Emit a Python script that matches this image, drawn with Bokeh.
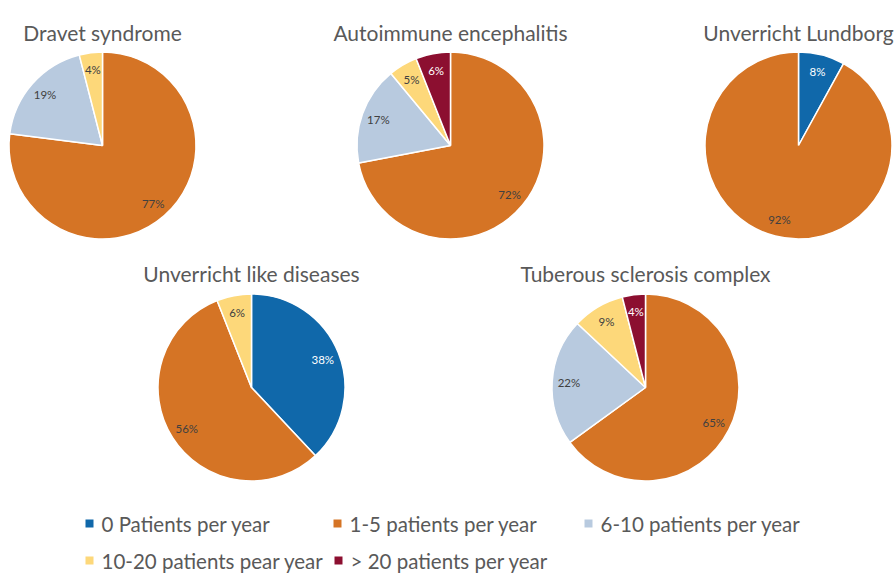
import math
from bokeh.plotting import figure
from bokeh.models import Range1d
from bokeh.core.properties import value
from bokeh.embed import file_html
from bokeh.resources import INLINE

# ---- data ----
diseases = ["Dravet syndrome", "Autoimmune encephalitis", "Unverricht Lundborg",
            "Unverricht like diseases", "Tuberous sclerosis complex"]
categories = ["0 Patients per year", "1-5 patients per year", "6-10 patients per year",
              "10-20 patients pear year", "> 20 patients per year"]
zero_per_year = [0, 0, 8, 38, 0]
one_to_five = [77, 72, 92, 56, 65]
six_to_ten = [19, 17, 0, 0, 22]
ten_to_twenty = [4, 5, 0, 6, 9]
over_twenty = [0, 6, 0, 0, 4]

# ---- styles / layout (layout in a 896x574 design space) ----
colors = ["#1068aa", "#d57425", "#b8cadf", "#fdd87a", "#8c0f30"]
label_colors = ["white", "#404040", "#404040", "#404040", "white"]
FONT = "Lato"
W, H = 896, 574
DW, DH = 896, 574
centers = [(102, 145), (450, 145), (798, 145), (251, 387), (645, 387)]
R = 93.5
title_y = [32, 32, 32, 273, 273]
legend_pos = [(89, 523), (337, 523), (588, 523), (89, 560), (338, 560)]

def Y(y):  # design y (from top) -> data y
    return DH - y

p = figure(width=W, height=H, output_backend="svg", toolbar_location=None,
           x_range=Range1d(0, DW), y_range=Range1d(0, DH),
           min_border=0, min_border_left=0, min_border_right=0,
           min_border_top=0, min_border_bottom=0)
p.axis.visible = False
p.grid.visible = False
p.outline_line_color = None
p.background_fill_color = "white"
p.border_fill_color = "white"

series = [zero_per_year, one_to_five, six_to_ten, ten_to_twenty, over_twenty]

for d, name in enumerate(diseases):
    cx, cy = centers[d]
    vals = [s[d] for s in series]
    total = float(sum(vals))
    cum = 0.0
    wx, wy, sa, ea, fc = [], [], [], [], []
    lx, ly, lt, lc = [], [], [], []
    for i, v in enumerate(vals):
        if v <= 0:
            continue
        f0 = cum / total
        f1 = (cum + v) / total
        cum += v
        wx.append(cx); wy.append(Y(cy))
        sa.append(math.pi / 2 - 2 * math.pi * f1)
        ea.append(math.pi / 2 - 2 * math.pi * f0)
        fc.append(colors[i])
        mid = (f0 + f1) / 2
        ang = math.pi / 2 - 2 * math.pi * mid
        rl = 0.82 * R
        lx.append(cx + rl * math.cos(ang)); ly.append(Y(cy) + rl * math.sin(ang))
        lt.append(f"{v}%"); lc.append(label_colors[i])
    p.wedge(x=wx, y=wy, radius=R, start_angle=sa, end_angle=ea,
            fill_color=fc, line_color="white", line_width=1.5)
    p.text(x=lx, y=ly, text=lt, text_color=lc, text_font=value(FONT),
           text_font_size="11.5px", text_align="center", text_baseline="middle")
    p.text(x=[cx], y=[Y(title_y[d])], text=[name], text_color="#595959",
           text_font=value(FONT), text_font_size="21px", text_align="center",
           text_baseline="alphabetic")

# legend
lgx = [pos[0] for pos in legend_pos]
lgy = [Y(pos[1]) for pos in legend_pos]
p.scatter(x=lgx, y=lgy, marker="square", size=8, fill_color=colors, line_color=None)
p.text(x=[x + 12 for x in lgx], y=lgy, text=categories, text_color="#595959",
       text_font=value(FONT), text_font_size="20.5px", text_align="left",
       text_baseline="middle")

open("out.html", "w").write(file_html(p, INLINE))
